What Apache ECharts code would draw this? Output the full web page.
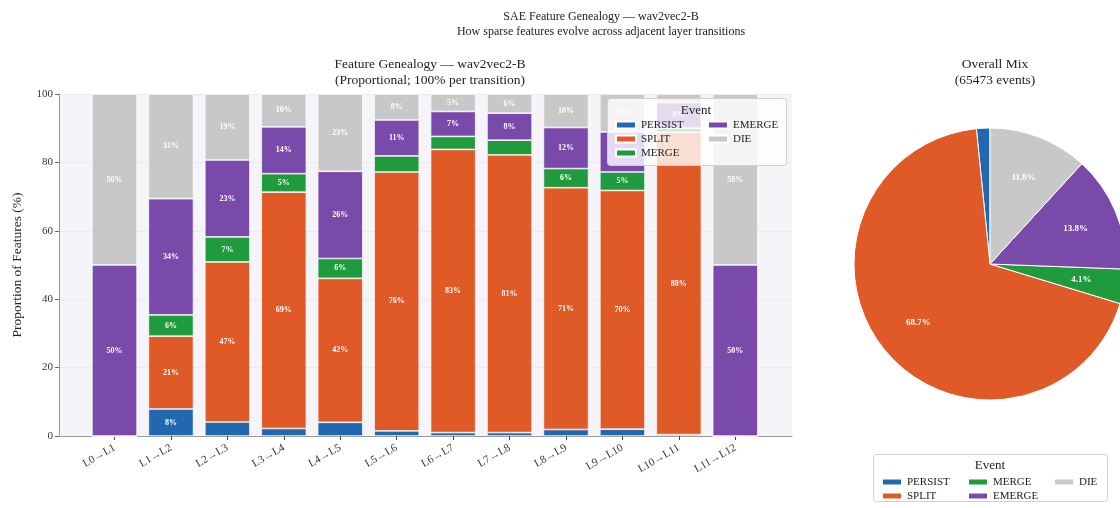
<!DOCTYPE html>
<html>
<head>
<meta charset="utf-8">
<script src="https://cdn.jsdelivr.net/npm/echarts@6/dist/echarts.min.js"></script>
<style>
  html, body { margin: 0; padding: 0; background: #ffffff; }
  #chart { width: 1120px; height: 508px; }
</style>
</head>
<body>
<div id="chart"></div>
<script>
// Layer transitions (x categories)
const categories = ['L0→L1', 'L1→L2', 'L2→L3', 'L3→L4', 'L4→L5', 'L5→L6',
  'L6→L7', 'L7→L8', 'L8→L9', 'L9→L10', 'L10→L11', 'L11→L12'];

// Share of events per transition (%), one array per event type
const persist = [0, 7.9, 4.1, 2.2, 4.0, 1.5, 1.0, 1.0, 1.9, 2.0, 0.4, 0];
const split   = [0, 21.3, 46.8, 69.1, 42.1, 75.7, 82.8, 81.2, 70.7, 69.8, 88.4, 0];
const merge   = [0, 6.2, 7.3, 5.4, 5.8, 4.7, 3.8, 4.3, 5.6, 5.4, 1.2, 0];
const emerge  = [50, 34.0, 22.5, 13.7, 25.5, 10.5, 7.3, 7.9, 12.0, 11.7, 7.5, 50];
const die     = [50, 30.6, 19.3, 9.6, 22.6, 7.6, 5.1, 5.6, 9.8, 11.1, 2.5, 50];

// Overall event counts across all transitions
const eventNames  = ['PERSIST', 'SPLIT', 'MERGE', 'EMERGE', 'DIE'];
const eventCounts = [1048, 44980, 2684, 9035, 7726];
const totalEvents = 65473;

// Y axis ticks
const yTicks = [0, 20, 40, 60, 80, 100];

const colors = {
  PERSIST: '#2268ae',
  SPLIT: '#e05a28',
  MERGE: '#1f9a3d',
  EMERGE: '#7a4aab',
  DIE: '#c8c8c8'
};
const FONT = '"Liberation Serif", "DejaVu Serif", serif';

const barSeriesData = { PERSIST: persist, SPLIT: split, MERGE: merge, EMERGE: emerge, DIE: die };

const barSeries = eventNames.map(name => ({
  name: name,
  type: 'bar',
  stack: 'share',
  xAxisIndex: 1,
  yAxisIndex: 1,
  barWidth: '80%',
  data: barSeriesData[name],
  itemStyle: { color: colors[name], borderColor: '#ffffff', borderWidth: 0.7 },
  label: {
    show: true,
    position: 'inside',
    color: '#ffffff',
    fontFamily: FONT,
    fontWeight: 'bold',
    fontSize: 8,
    formatter: p => (p.value >= 5 ? Math.round(p.value) + '%' : '')
  },
  emphasis: { disabled: true }
}));

const pieData = eventNames.map((n, i) => ({ name: n, value: eventCounts[i], itemStyle: { color: colors[n] } }));

const PIE_CENTER = [990, 264];
const PIE_R = 136;

const legendText = { fontFamily: FONT, fontSize: 11, color: '#222', lineHeight: 12 };
function legendCol(names, left, top) {
  return {
    data: names,
    orient: 'vertical',
    left: left,
    top: top,
    padding: 0,
    itemGap: 2,
    itemWidth: 20,
    itemHeight: 7,
    icon: 'rect',
    z: 30,
    textStyle: legendText,
    selectedMode: true
  };
}

const option = {
  backgroundColor: '#ffffff',
  animation: false,
  title: [
    {
      text: 'SAE Feature Genealogy — wav2vec2-B\nHow sparse features evolve across adjacent layer transitions',
      left: 596, top: 4, textAlign: 'center',
      textStyle: { fontFamily: FONT, fontSize: 12, fontWeight: 'normal', color: '#222', lineHeight: 15 }
    },
    {
      text: 'Feature Genealogy — wav2vec2-B\n(Proportional; 100% per transition)',
      left: 425, top: 52, textAlign: 'center',
      textStyle: { fontFamily: FONT, fontSize: 13.5, fontWeight: 'normal', color: '#222', lineHeight: 15.5 }
    },
    {
      text: 'Overall Mix\n(' + totalEvents + ' events)',
      left: 990, top: 52, textAlign: 'center',
      textStyle: { fontFamily: FONT, fontSize: 13.5, fontWeight: 'normal', color: '#222', lineHeight: 15.5 }
    }
  ],
  grid: [
    { left: 59, right: 328, top: 94, bottom: 72, show: true, backgroundColor: '#f4f4f9', borderWidth: 0 },
    { left: 86.3, right: 356.5, top: 94, bottom: 72 }
  ],
  xAxis: [
    {
      type: 'value', gridIndex: 0, min: 0, max: 1,
      axisLine: { show: true, lineStyle: { color: '#9a9a9a', width: 1 } },
      axisTick: { show: false }, axisLabel: { show: false }, splitLine: { show: false }
    },
    {
      type: 'category', gridIndex: 1, data: categories,
      axisLine: { show: false },
      axisTick: { show: true, alignWithLabel: true, length: 4, lineStyle: { color: '#444' } },
      axisLabel: { rotate: 30, margin: 11, fontFamily: FONT, fontSize: 11, color: '#333', interval: 0 }
    }
  ],
  yAxis: [
    {
      type: 'value', gridIndex: 0, min: yTicks[0], max: yTicks[yTicks.length - 1], interval: 20,
      name: 'Proportion of Features (%)', nameLocation: 'middle', nameGap: 35,
      nameTextStyle: { fontFamily: FONT, fontSize: 13.5, color: '#222' },
      axisLine: { show: true, lineStyle: { color: '#9a9a9a', width: 1 } },
      axisTick: { show: true, length: 4, lineStyle: { color: '#666' } },
      axisLabel: { fontFamily: FONT, fontSize: 11, color: '#333', margin: 6 },
      splitLine: { show: true, lineStyle: { color: '#e6e6ee', width: 0.8 } }
    },
    {
      type: 'value', gridIndex: 1, min: 0, max: 100, show: false, splitLine: { show: false }
    }
  ],
  legend: [
    legendCol(['PERSIST', 'SPLIT', 'MERGE'], 615, 119),
    legendCol(['EMERGE', 'DIE'], 707, 119),
    legendCol(['PERSIST', 'SPLIT'], 881, 476),
    legendCol(['MERGE', 'EMERGE'], 967, 476),
    legendCol(['DIE'], 1053, 476)
  ],
  graphic: [
    {
      type: 'rect', z: 25,
      shape: { x: 607.5, y: 98.5, width: 179, height: 67, r: 3 },
      style: { fill: 'rgba(255,255,255,0.8)', stroke: '#d0d0d0', lineWidth: 1 }
    },
    {
      type: 'text', z: 30, x: 696, y: 111,
      style: { text: 'Event', font: '13px ' + FONT, fill: '#222', align: 'center', verticalAlign: 'middle' }
    },
    {
      type: 'rect', z: 25,
      shape: { x: 873.5, y: 454.5, width: 234, height: 47, r: 3 },
      style: { fill: 'rgba(255,255,255,0.8)', stroke: '#d0d0d0', lineWidth: 1 }
    },
    {
      type: 'text', z: 30, x: 990, y: 466,
      style: { text: 'Event', font: '13px ' + FONT, fill: '#222', align: 'center', verticalAlign: 'middle' }
    }
  ],
  series: barSeries.concat([
    {
      name: 'Overall Mix',
      type: 'pie',
      center: PIE_CENTER,
      radius: [0, PIE_R],
      startAngle: 90,
      clockwise: false,
      data: pieData,
      itemStyle: { borderColor: '#ffffff', borderWidth: 1 },
      label: { show: false },
      labelLine: { show: false },
      emphasis: { disabled: true }
    },
    {
      // transparent twin pie used only to place the percentage labels at ~0.66 of the radius
      name: 'Overall Mix labels',
      type: 'pie',
      center: PIE_CENTER,
      radius: [0, PIE_R * 1.32],
      startAngle: 90,
      clockwise: false,
      silent: true,
      data: eventNames.map((n, i) => ({ name: n, value: eventCounts[i] })),
      itemStyle: { color: 'rgba(0,0,0,0)', borderWidth: 0 },
      label: {
        show: true,
        position: 'inside',
        color: '#ffffff',
        fontFamily: FONT,
        fontWeight: 'bold',
        fontSize: 9,
        formatter: p => (p.percent > 3 ? (p.value / totalEvents * 100).toFixed(1) + '%' : '')
      },
      labelLine: { show: false },
      emphasis: { disabled: true }
    }
  ])
};

const chart = echarts.init(document.getElementById('chart'), null, { renderer: 'canvas' });
chart.setOption(option);
</script>
</body>
</html>
